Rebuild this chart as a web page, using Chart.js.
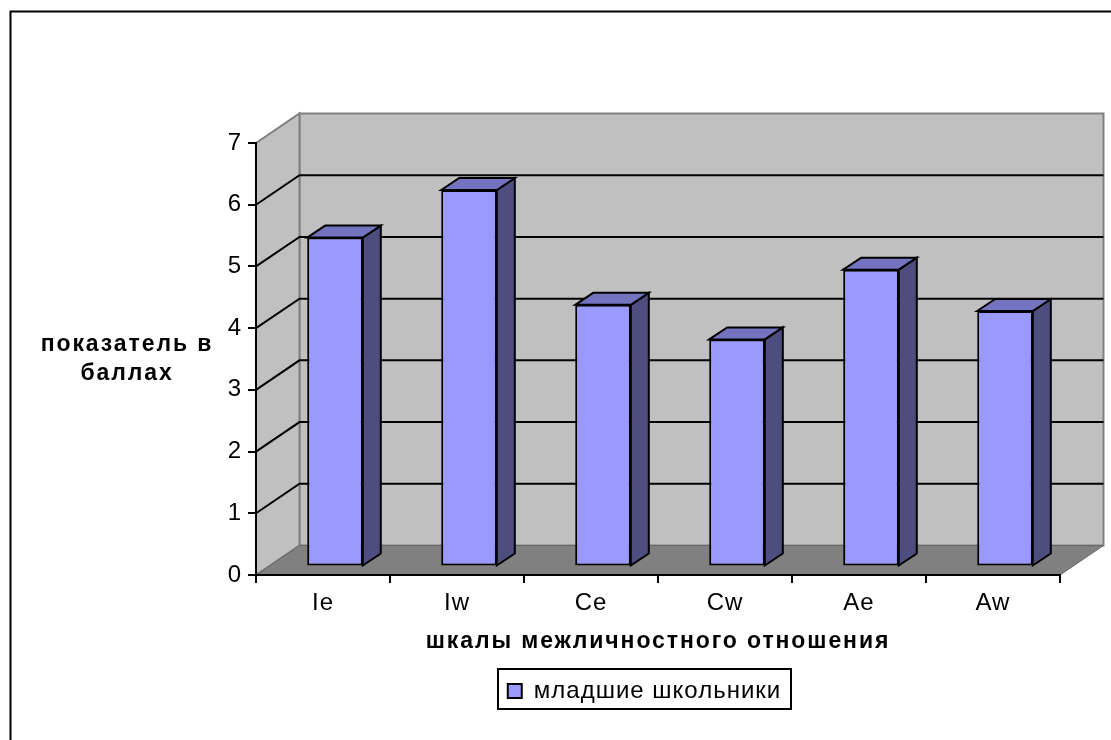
<!DOCTYPE html>
<html>
<head>
<meta charset="utf-8">
<title>шкалы межличностного отношения</title>
<script src="https://cdn.jsdelivr.net/npm/chart.js@4/dist/chart.umd.min.js"></script>
<style>
  html, body { margin: 0; padding: 0; background: #fff; overflow: hidden; }
  canvas { display: block; }
</style>
</head>
<body>
<canvas id="grafico" width="1111" height="740"></canvas>
<script>
const categorias = ["Ie", "Iw", "Ce", "Cw", "Ae", "Aw"];
const valores = [5.33, 6.1, 4.24, 3.68, 4.81, 4.14];
const nomeSerie = "младшие школьники";
const tituloX = "шкалы межличностного отношения";
const tituloY = ["показатель в", "баллах"];

const fonte = "'Liberation Sans', Arial, sans-serif";

// depth of the fake 3D box, in pixels
const paredeDX = 43.5, paredeDY = 29.5;
const barraDX = 18, barraDY = 12;
const recuoDX = 12, recuoDY = 8.5;

function poligono(ctx, pts, fill, stroke, lw) {
  ctx.beginPath();
  pts.forEach((p, i) => i ? ctx.lineTo(p[0], p[1]) : ctx.moveTo(p[0], p[1]));
  ctx.closePath();
  ctx.fillStyle = fill;
  ctx.fill();
  if (stroke) {
    ctx.strokeStyle = stroke;
    ctx.lineWidth = lw;
    ctx.lineJoin = "miter";
    ctx.stroke();
  }
}

const caixa3d = {
  id: "caixa3d",
  beforeUpdate(chart) {
    // the original text is wider than Liberation Sans, spread it a little
    chart.ctx.letterSpacing = "1px";
  },
  afterLayout(chart) {
    // legend sits off-centre in the original, so move its box
    const l = chart.legend;
    l.left = 498; l.right = 791; l.top = 669; l.bottom = 709;
    l.width = 293; l.height = 40;
  },
  beforeDraw(chart) {
    const ctx = chart.ctx;
    const { left, right, top, bottom } = chart.chartArea;
    const y = chart.scales.y;

    // outer frame, only top and left are in the picture
    ctx.save();
    ctx.strokeStyle = "#000";
    ctx.lineWidth = 2;
    ctx.beginPath();
    ctx.moveTo(10.5, 740);
    ctx.lineTo(10.5, 11.5);
    ctx.lineTo(1111, 11.5);
    ctx.stroke();

    // back wall, left wall, floor
    poligono(ctx, [[left + paredeDX, top - paredeDY], [right + paredeDX, top - paredeDY],
      [right + paredeDX, bottom - paredeDY], [left + paredeDX, bottom - paredeDY]], "#c0c0c0", "#808080", 2);
    poligono(ctx, [[left, top], [left + paredeDX, top - paredeDY],
      [left + paredeDX, bottom - paredeDY], [left, bottom]], "#c0c0c0", "#808080", 2);

    // grid lines run over the left wall and the back wall
    ctx.strokeStyle = "#000";
    ctx.lineWidth = 2;
    y.ticks.forEach(t => {
      if (t.value === 0 || t.value === 7) return;
      const py = y.getPixelForValue(t.value);
      ctx.beginPath();
      ctx.moveTo(left, py);
      ctx.lineTo(left + paredeDX, py - paredeDY);
      ctx.lineTo(right + paredeDX, py - paredeDY);
      ctx.stroke();
    });

    poligono(ctx, [[left, bottom], [left + paredeDX, bottom - paredeDY],
      [right + paredeDX, bottom - paredeDY], [right, bottom]], "#808080", "#666", 1);
    ctx.restore();
  },
  beforeDatasetsDraw(chart) {
    const ctx = chart.ctx;
    ctx.save();
    ctx.translate(recuoDX, -recuoDY);
    chart.getDatasetMeta(0).data.forEach(b => {
      const esq = b.x - b.width / 2, dir = b.x + b.width / 2;
      poligono(ctx, [[dir, b.y], [dir + barraDX, b.y - barraDY], [dir + barraDX, b.base - barraDY], [dir, b.base]], "#4d4d80", "#000", 2);
      poligono(ctx, [[esq, b.y], [esq + barraDX, b.y - barraDY], [dir + barraDX, b.y - barraDY], [dir, b.y]], "#7373bf", "#000", 2);
    });
  },
  afterDatasetsDraw(chart) {
    chart.ctx.restore();
  },
  afterDraw(chart) {
    const ctx = chart.ctx;
    const l = chart.legend;
    ctx.save();
    ctx.strokeStyle = "#000";
    ctx.lineWidth = 2;
    ctx.strokeRect(l.left, l.top, l.right - l.left, l.bottom - l.top);

    // titles stay here: y must be horizontal and both need wider spacing
    ctx.fillStyle = "#000";
    ctx.font = "bold 23px " + fonte;
    ctx.textAlign = "center";
    ctx.textBaseline = "middle";
    ctx.letterSpacing = "1.9px";
    tituloY.forEach((linha, i) => ctx.fillText(linha, 127, 345 + i * 29));
    ctx.fillText(tituloX, 658, 642);
    ctx.restore();
  }
};

new Chart(document.getElementById("grafico"), {
  type: "bar",
  data: {
    labels: categorias,
    datasets: [{
      label: nomeSerie,
      data: valores,
      backgroundColor: "#9999ff",
      borderColor: "#000",
      borderWidth: 2,
      borderSkipped: false,
      barPercentage: 0.415,
      categoryPercentage: 1,
      clip: false
    }]
  },
  options: {
    responsive: false,
    animation: false,
    devicePixelRatio: 1,
    layout: { padding: { top: 143, right: 51, left: 0, bottom: 0 } },
    plugins: {
      tooltip: { enabled: false },
      legend: {
        display: true,
        position: "bottom",
        labels: {
          color: "#000",
          font: { family: fonte, size: 24 },
          boxWidth: 14,
          boxHeight: 14,
          padding: 10
        }
      }
    },
    scales: {
      x: {
        afterFit: s => { s.height = 121; },
        border: { color: "#000", width: 2 },
        grid: { drawOnChartArea: false, drawTicks: true, tickLength: 8, color: "#000", lineWidth: 2 },
        ticks: { color: "#000", font: { family: fonte, size: 24 }, padding: 6, maxRotation: 0 }
      },
      y: {
        min: 0,
        max: 7,
        afterFit: s => { s.width = 256; },
        border: { color: "#000", width: 2 },
        grid: { drawOnChartArea: false, drawTicks: true, tickLength: 8, color: "#000", lineWidth: 2 },
        ticks: { stepSize: 1, color: "#000", font: { family: fonte, size: 24 }, padding: 6 }
      }
    }
  },
  plugins: [caixa3d]
});
</script>
</body>
</html>
